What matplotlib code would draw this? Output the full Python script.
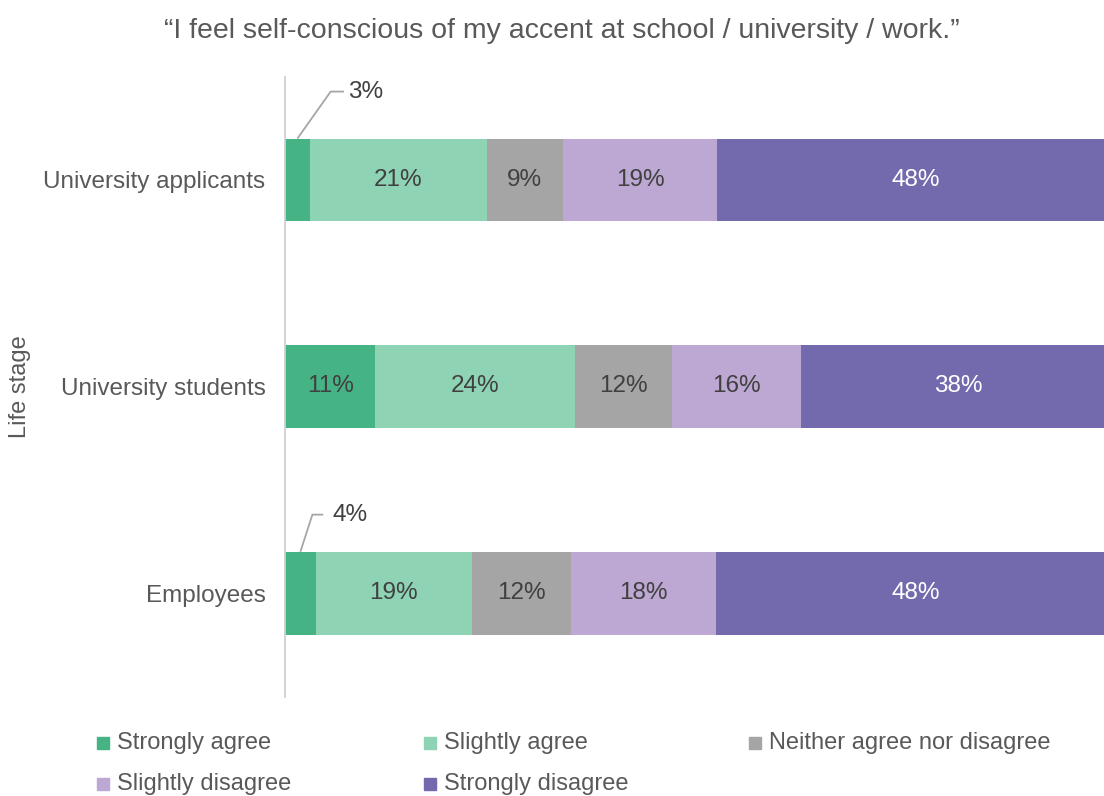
import matplotlib
matplotlib.use("Agg")
import matplotlib.pyplot as plt
from matplotlib.patches import Rectangle
from matplotlib import font_manager as fm

fams = {f.name for f in fm.fontManager.ttflist}
FONT = "Liberation Sans Narrow" if "Liberation Sans Narrow" in fams else "Liberation Sans"
plt.rcParams['font.family'] = [FONT, 'DejaVu Sans']

title = "\u201cI feel self-conscious of my accent at school / university / work.\u201d"
categories = ["University applicants", "University students", "Employees"]
series_names = ["Strongly agree", "Slightly agree", "Neither agree nor disagree",
                "Slightly disagree", "Strongly disagree"]
strongly_agree = [3.0, 10.9, 3.7]
slightly_agree = [21.3, 24.0, 18.8]
neither = [9.2, 11.7, 11.9]
slightly_disagree = [18.6, 15.6, 17.5]
strongly_disagree = [47.9, 37.8, 48.1]
series = [strongly_agree, slightly_agree, neither, slightly_disagree, strongly_disagree]
colors = ["#45b383", "#8fd3b5", "#a5a5a5", "#bca8d3", "#736aad"]
text_colors = ["#404040", "#404040", "#404040", "#404040", "#ffffff"]

W, H = 1104, 796
fig = plt.figure(figsize=(W / 100, H / 100), dpi=100)
ax = fig.add_axes([285 / W, 1 - 696.5 / H, 830 / W, 620 / H])
ax.set_xlim(0, 100)
ax.set_ylim(2.5, -0.5)

BAR_H = 0.4
# callout leader geometry per category (elbow dx in %, elbow dy in category units,
# horizontal run in %, text gap in %)
callout = {0: (4.0, 0.227, 1.6, 0.5), 2: (1.45, 0.18, 1.3, 1.1)}

ypos = list(range(len(categories)))
left = [0.0] * len(categories)
for si, vals in enumerate(series):
    ax.barh(ypos, vals, left=left, height=BAR_H, color=colors[si], edgecolor="none")
    for ci, v in enumerate(vals):
        cx = left[ci] + v / 2
        lab = f"{v:.0f}%"
        if v < 5:
            dx, dy, run, gap = callout[ci]
            y0 = ci - BAR_H / 2
            ex, ey = cx + dx, y0 - dy
            ax.plot([cx, ex, ex + run], [y0, ey, ey], color="#a6a6a6", lw=1.3,
                    solid_capstyle="butt", clip_on=False)
            ax.text(ex + run + gap, ey, lab, ha="left", va="center", fontsize=17.5,
                    color="#404040")
        else:
            ax.text(cx, ci, lab, ha="center", va="center", fontsize=17.5,
                    color=text_colors[si])
        left[ci] += v

for s in ["top", "right", "bottom"]:
    ax.spines[s].set_visible(False)
ax.spines["left"].set_color("#d0d0d0")
ax.spines["left"].set_linewidth(1.3)
ax.set_xticks([])
ax.set_yticks(ypos)
ax.set_yticklabels(categories, fontsize=17.5, color="#595959")
ax.tick_params(axis="y", length=0, pad=14)
ax.set_ylabel("Life stage", fontsize=17, color="#595959")
ax.yaxis.set_label_coords(-(285 - 31) / 830, 0.5)

fig.text(562 / W, 1 - 31 / H, title, ha="center", va="center", fontsize=20.5,
         color="#595959")

# legend
leg_pos = [(103, 743), (430, 743), (755, 743), (103, 784), (430, 784)]
for (lx, ly), name, c in zip(leg_pos, series_names, colors):
    fig.patches.append(Rectangle(((lx - 6) / W, 1 - (ly + 6) / H), 12 / W, 12 / H,
                                 transform=fig.transFigure, color=c, figure=fig))
    fig.text((lx + 14) / W, 1 - ly / H, name, ha="left", va="center",
             fontsize=17, color="#595959")

fig.savefig("out.png", dpi=100)
